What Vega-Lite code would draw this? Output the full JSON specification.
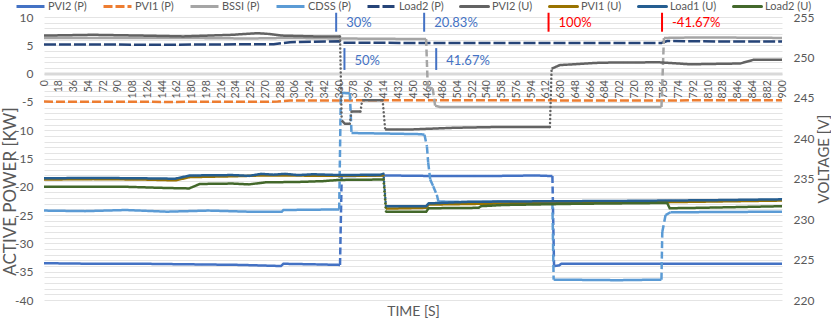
{
"$schema": "https://vega.github.io/schema/vega-lite/v6.json",
"width": 738, "height": 283,
"autosize": {"type": "none"},
"padding": {"left": 44, "top": 17, "right": 49, "bottom": 19},
"background": "white",
"config": {"view": {"stroke": null}, "font": "Lato",
 "axis": {"labelFont": "Lato", "titleFont": "Lato", "labelColor": "#595959", "titleColor": "#595959", "titleFontWeight": "normal", "labelOverlap": false, "ticks": false},
 "axisX": {"labelAngle": 270, "labelFontSize": 10.5, "labelPadding": 6, "grid": false, "domainColor": "#D9D9D9", "domainWidth": 3, "offset": -226.4, "titleFontSize": 14, "titleY": 238, "titleBaseline": "middle", "labelBound": false, "labelFlush": false},
 "axisLeft": {"domain": false, "grid": true, "gridColor": "#E4E4E4", "gridWidth": 1, "labelFontSize": 12, "labelPadding": 11, "titleFontSize": 17, "titleX": -34, "titleY": 174, "titleAngle": 270, "titleAlign": "center", "titleBaseline": "middle"},
 "axisRight": {"domain": false, "grid": false, "labelFontSize": 12, "labelPadding": 11, "titleFontSize": 15, "titleX": 41, "titleY": 141.5, "titleAngle": 270, "titleAlign": "center", "titleBaseline": "middle"}
},
"datasets": {
"P": [
{"series":"PVI2 (P)","t":0,"kW":-33.5},{"series":"PVI2 (P)","t":60,"kW":-33.6},{"series":"PVI2 (P)","t":120,"kW":-33.6},{"series":"PVI2 (P)","t":180,"kW":-33.7},{"series":"PVI2 (P)","t":240,"kW":-33.8},{"series":"PVI2 (P)","t":289,"kW":-34.0},{"series":"PVI2 (P)","t":292,"kW":-33.6},{"series":"PVI2 (P)","t":330,"kW":-33.7},{"series":"PVI2 (P)","t":361,"kW":-33.8},{"series":"PVI2 (P)","t":362,"kW":null},{"series":"PVI2 (P)","t":363,"kW":-18.1},{"series":"PVI2 (P)","t":420,"kW":-18.0},{"series":"PVI2 (P)","t":480,"kW":-18.1},{"series":"PVI2 (P)","t":540,"kW":-18.1},{"series":"PVI2 (P)","t":600,"kW":-18.0},{"series":"PVI2 (P)","t":620,"kW":-18.1},{"series":"PVI2 (P)","t":621,"kW":null},{"series":"PVI2 (P)","t":622,"kW":-34.0},{"series":"PVI2 (P)","t":628,"kW":-33.9},{"series":"PVI2 (P)","t":631,"kW":-33.6},{"series":"PVI2 (P)","t":750,"kW":-33.6},{"series":"PVI2 (P)","t":900,"kW":-33.6},
{"series":"PVI1 (P)","t":0,"kW":-4.95},{"series":"PVI1 (P)","t":150,"kW":-5.0},{"series":"PVI1 (P)","t":285,"kW":-4.95},{"series":"PVI1 (P)","t":300,"kW":-4.75},{"series":"PVI1 (P)","t":500,"kW":-4.7},{"series":"PVI1 (P)","t":700,"kW":-4.75},{"series":"PVI1 (P)","t":900,"kW":-4.7},
{"series":"BSSI (P)","t":0,"kW":6.3},{"series":"BSSI (P)","t":100,"kW":6.3},{"series":"BSSI (P)","t":170,"kW":6.3},{"series":"BSSI (P)","t":250,"kW":6.2},{"series":"BSSI (P)","t":300,"kW":6.3},{"series":"BSSI (P)","t":360,"kW":6.2},{"series":"BSSI (P)","t":466,"kW":6.1},{"series":"BSSI (P)","t":467,"kW":null},{"series":"BSSI (P)","t":468,"kW":-2.5},{"series":"BSSI (P)","t":474,"kW":-2.6},{"series":"BSSI (P)","t":475.5,"kW":null},{"series":"BSSI (P)","t":477,"kW":-5.7},{"series":"BSSI (P)","t":483,"kW":-5.9},{"series":"BSSI (P)","t":650,"kW":-5.9},{"series":"BSSI (P)","t":753,"kW":-5.9},{"series":"BSSI (P)","t":754.5,"kW":null},{"series":"BSSI (P)","t":756,"kW":6.3},{"series":"BSSI (P)","t":800,"kW":6.4},{"series":"BSSI (P)","t":900,"kW":6.3},
{"series":"CDSS (P)","t":0,"kW":-24.2},{"series":"CDSS (P)","t":50,"kW":-24.3},{"series":"CDSS (P)","t":100,"kW":-24.1},{"series":"CDSS (P)","t":150,"kW":-24.4},{"series":"CDSS (P)","t":200,"kW":-24.2},{"series":"CDSS (P)","t":250,"kW":-24.4},{"series":"CDSS (P)","t":290,"kW":-24.4},{"series":"CDSS (P)","t":292,"kW":-24.1},{"series":"CDSS (P)","t":360,"kW":-24.0},{"series":"CDSS (P)","t":361,"kW":null},{"series":"CDSS (P)","t":362,"kW":-3.4},{"series":"CDSS (P)","t":373,"kW":-3.5},{"series":"CDSS (P)","t":374,"kW":null},{"series":"CDSS (P)","t":375,"kW":-10.5},{"series":"CDSS (P)","t":420,"kW":-10.6},{"series":"CDSS (P)","t":459,"kW":-10.7},{"series":"CDSS (P)","t":464,"kW":-10.8},{"series":"CDSS (P)","t":470,"kW":null},{"series":"CDSS (P)","t":481,"kW":-22.6},{"series":"CDSS (P)","t":520,"kW":-22.7},{"series":"CDSS (P)","t":560,"kW":-22.6},{"series":"CDSS (P)","t":620,"kW":-22.7},{"series":"CDSS (P)","t":621,"kW":null},{"series":"CDSS (P)","t":621.5,"kW":-36.4},{"series":"CDSS (P)","t":700,"kW":-36.5},{"series":"CDSS (P)","t":753,"kW":-36.4},{"series":"CDSS (P)","t":753.5,"kW":null},{"series":"CDSS (P)","t":764,"kW":-24.5},{"series":"CDSS (P)","t":900,"kW":-24.4},
{"series":"Load2 (P)","t":0,"kW":5.15},{"series":"Load2 (P)","t":150,"kW":5.1},{"series":"Load2 (P)","t":280,"kW":5.2},{"series":"Load2 (P)","t":300,"kW":5.55},{"series":"Load2 (P)","t":361,"kW":5.7},{"series":"Load2 (P)","t":364,"kW":5.45},{"series":"Load2 (P)","t":500,"kW":5.4},{"series":"Load2 (P)","t":600,"kW":5.4},{"series":"Load2 (P)","t":753,"kW":5.4},{"series":"Load2 (P)","t":760,"kW":5.75},{"series":"Load2 (P)","t":800,"kW":5.7},{"series":"Load2 (P)","t":900,"kW":5.65}
],
"Pjump": [
{"series":"PVI2 (P)","t":361,"t2":363,"kW":-33.8,"kW2":-18.1},
{"series":"PVI2 (P)","t":620,"t2":622,"kW":-18.1,"kW2":-34.0},
{"series":"BSSI (P)","t":466,"t2":468,"kW":6.1,"kW2":-2.5},
{"series":"BSSI (P)","t":474,"t2":477,"kW":-2.6,"kW2":-5.7},
{"series":"BSSI (P)","t":753,"t2":756,"kW":-5.9,"kW2":6.3},
{"series":"CDSS (P)","t":360,"t2":362,"kW":-24.0,"kW2":-3.4},
{"series":"CDSS (P)","t":373,"t2":375,"kW":-3.5,"kW2":-10.5},
{"series":"CDSS (P)","t":464,"t2":467,"kW":-10.8,"kW2":-12.9},
{"series":"CDSS (P)","t":467,"t2":468.5,"kW":-12.9,"kW2":-15.7},
{"series":"CDSS (P)","t":468.5,"t2":471,"kW":-15.7,"kW2":-18.7},
{"series":"CDSS (P)","t":471,"t2":474.6,"kW":-18.7,"kW2":-19.9},
{"series":"CDSS (P)","t":474.6,"t2":479,"kW":-19.9,"kW2":-21.4},
{"series":"CDSS (P)","t":479,"t2":481,"kW":-21.4,"kW2":-22.6},
{"series":"CDSS (P)","t":620,"t2":621.5,"kW":-22.7,"kW2":-36.4},
{"series":"CDSS (P)","t":753,"t2":754,"kW":-36.4,"kW2":-28.0},
{"series":"CDSS (P)","t":754,"t2":758,"kW":-28.0,"kW2":-25.0},
{"series":"CDSS (P)","t":758,"t2":764,"kW":-25.0,"kW2":-24.5}
],
"U": [
{"series":"PVI2 (U)","t":0,"V":252.7},{"series":"PVI2 (U)","t":60,"V":252.8},{"series":"PVI2 (U)","t":120,"V":252.7},{"series":"PVI2 (U)","t":170,"V":252.6},{"series":"PVI2 (U)","t":230,"V":252.8},{"series":"PVI2 (U)","t":260,"V":253.0},{"series":"PVI2 (U)","t":275,"V":252.9},{"series":"PVI2 (U)","t":290,"V":252.7},{"series":"PVI2 (U)","t":330,"V":252.6},{"series":"PVI2 (U)","t":361,"V":252.6},{"series":"PVI2 (U)","t":362,"V":null},{"series":"PVI2 (U)","t":363,"V":242.2},{"series":"PVI2 (U)","t":367,"V":241.8},{"series":"PVI2 (U)","t":373,"V":241.8},{"series":"PVI2 (U)","t":374,"V":null},{"series":"PVI2 (U)","t":375,"V":243.3},{"series":"PVI2 (U)","t":386,"V":243.3},{"series":"PVI2 (U)","t":387,"V":null},{"series":"PVI2 (U)","t":388,"V":244.7},{"series":"PVI2 (U)","t":413,"V":244.7},{"series":"PVI2 (U)","t":414.5,"V":null},{"series":"PVI2 (U)","t":416,"V":241.1},{"series":"PVI2 (U)","t":450,"V":241.1},{"series":"PVI2 (U)","t":500,"V":241.3},{"series":"PVI2 (U)","t":556,"V":241.4},{"series":"PVI2 (U)","t":617,"V":241.4},{"series":"PVI2 (U)","t":618,"V":null},{"series":"PVI2 (U)","t":619,"V":248.6},{"series":"PVI2 (U)","t":629,"V":249.05},{"series":"PVI2 (U)","t":678,"V":249.35},{"series":"PVI2 (U)","t":750,"V":249.4},{"series":"PVI2 (U)","t":788,"V":249.15},{"series":"PVI2 (U)","t":849,"V":249.25},{"series":"PVI2 (U)","t":865,"V":249.7},{"series":"PVI2 (U)","t":900,"V":249.7},
{"series":"PVI1 (U)","t":0,"V":234.9},{"series":"PVI1 (U)","t":60,"V":234.95},{"series":"PVI1 (U)","t":120,"V":234.9},{"series":"PVI1 (U)","t":160,"V":234.8},{"series":"PVI1 (U)","t":178,"V":235.2},{"series":"PVI1 (U)","t":230,"V":235.3},{"series":"PVI1 (U)","t":265,"V":235.4},{"series":"PVI1 (U)","t":294,"V":235.4},{"series":"PVI1 (U)","t":360,"V":235.35},{"series":"PVI1 (U)","t":414,"V":235.4},{"series":"PVI1 (U)","t":415.5,"V":null},{"series":"PVI1 (U)","t":417,"V":231.3},{"series":"PVI1 (U)","t":466,"V":231.4},{"series":"PVI1 (U)","t":469,"V":231.8},{"series":"PVI1 (U)","t":600,"V":232.0},{"series":"PVI1 (U)","t":760,"V":232.1},{"series":"PVI1 (U)","t":900,"V":232.3},
{"series":"Load1 (U)","t":0,"V":235.05},{"series":"Load1 (U)","t":60,"V":235.1},{"series":"Load1 (U)","t":120,"V":235.05},{"series":"Load1 (U)","t":160,"V":235.0},{"series":"Load1 (U)","t":178,"V":235.4},{"series":"Load1 (U)","t":230,"V":235.45},{"series":"Load1 (U)","t":250,"V":235.35},{"series":"Load1 (U)","t":265,"V":235.6},{"series":"Load1 (U)","t":280,"V":235.5},{"series":"Load1 (U)","t":294,"V":235.6},{"series":"Load1 (U)","t":310,"V":235.45},{"series":"Load1 (U)","t":328,"V":235.55},{"series":"Load1 (U)","t":360,"V":235.45},{"series":"Load1 (U)","t":410,"V":235.5},{"series":"Load1 (U)","t":414,"V":235.6},{"series":"Load1 (U)","t":415.5,"V":null},{"series":"Load1 (U)","t":417,"V":231.6},{"series":"Load1 (U)","t":466,"V":231.6},{"series":"Load1 (U)","t":469,"V":231.95},{"series":"Load1 (U)","t":520,"V":232.15},{"series":"Load1 (U)","t":600,"V":232.2},{"series":"Load1 (U)","t":700,"V":232.25},{"series":"Load1 (U)","t":760,"V":232.3},{"series":"Load1 (U)","t":820,"V":232.35},{"series":"Load1 (U)","t":900,"V":232.45},
{"series":"Load2 (U)","t":0,"V":234.0},{"series":"Load2 (U)","t":100,"V":234.0},{"series":"Load2 (U)","t":150,"V":233.85},{"series":"Load2 (U)","t":177,"V":233.8},{"series":"Load2 (U)","t":190,"V":234.35},{"series":"Load2 (U)","t":230,"V":234.4},{"series":"Load2 (U)","t":250,"V":234.3},{"series":"Load2 (U)","t":270,"V":234.55},{"series":"Load2 (U)","t":310,"V":234.6},{"series":"Load2 (U)","t":340,"V":234.7},{"series":"Load2 (U)","t":360,"V":234.85},{"series":"Load2 (U)","t":414,"V":234.9},{"series":"Load2 (U)","t":415.5,"V":null},{"series":"Load2 (U)","t":417,"V":230.9},{"series":"Load2 (U)","t":466,"V":230.9},{"series":"Load2 (U)","t":469,"V":231.35},{"series":"Load2 (U)","t":530,"V":231.4},{"series":"Load2 (U)","t":533,"V":231.6},{"series":"Load2 (U)","t":560,"V":231.75},{"series":"Load2 (U)","t":650,"V":231.9},{"series":"Load2 (U)","t":760,"V":232.0},{"series":"Load2 (U)","t":763,"V":231.35},{"series":"Load2 (U)","t":800,"V":231.4},{"series":"Load2 (U)","t":850,"V":231.5},{"series":"Load2 (U)","t":900,"V":231.6}
],
"Ujump": [
{"series":"PVI2 (U)","t":361,"t2":363,"V":252.6,"V2":242.2},
{"series":"PVI2 (U)","t":373,"t2":375,"V":241.8,"V2":243.3},
{"series":"PVI2 (U)","t":386,"t2":388,"V":243.3,"V2":244.7},
{"series":"PVI2 (U)","t":413,"t2":416,"V":244.7,"V2":241.1},
{"series":"PVI2 (U)","t":617,"t2":619,"V":241.4,"V2":248.6},
{"series":"PVI1 (U)","t":414,"t2":417,"V":235.4,"V2":231.3},
{"series":"Load1 (U)","t":414,"t2":417,"V":235.6,"V2":231.6},
{"series":"Load2 (U)","t":414,"t2":417,"V":234.9,"V2":230.9}
],
"ann": [
{"label":"30%","t":356.3,"kW":10.75,"kW2":7.4,"kWm":9.0},
{"label":"50%","t":366.4,"kW":4.5,"kW2":0.65,"kWm":2.3},
{"label":"20.83%","t":463.6,"kW":10.75,"kW2":7.4,"kWm":9.0},
{"label":"41.67%","t":478.3,"kW":4.5,"kW2":0.65,"kWm":2.3},
{"label":"100%","t":615.3,"kW":10.75,"kW2":7.4,"kWm":9.0},
{"label":"-41.67%","t":753.7,"kW":10.75,"kW2":7.4,"kWm":9.0}
]
},
"layer": [
{"layer": [
{"data": {"name": "P"}, "mark": {"type": "line", "strokeWidth": 2.5, "clip": false, "invalid": "break-paths-show-domains"},
"encoding": {
"x": {"field": "t", "type": "quantitative", "scale": {"domain": [0, 900], "nice": false, "zero": false},
 "axis": {"values": [0,18,36,54,72,90,108,126,144,162,180,198,216,234,252,270,288,306,324,342,360,378,396,414,432,450,468,486,504,522,540,558,576,594,612,630,648,666,684,702,720,738,756,774,792,810,828,846,864,882,900], "title": "TIME [S]", "labelOverlap": false}},
"y": {"field": "kW", "type": "quantitative", "scale": {"domain": [-40, 10], "nice": false, "zero": false},
 "axis": {"values": [-40,-39,-38,-37,-36,-35,-34,-33,-32,-31,-30,-29,-28,-27,-26,-25,-24,-23,-22,-21,-20,-19,-18,-17,-16,-15,-14,-13,-12,-11,-10,-9,-8,-7,-6,-5,-4,-3,-2,-1,0,1,2,3,4,5,6,7,8,9,10],
  "labelExpr": "datum.value % 5 === 0 ? '' + datum.value : ''", "grid": true, "labelOverlap": false,
  "title": "ACTIVE POWER [KW]"}},
"color": {"field": "series", "type": "nominal",
 "scale": {"domain": ["PVI2 (P)","PVI1 (P)","BSSI (P)","CDSS (P)","Load2 (P)","PVI2 (U)","PVI1 (U)","Load1 (U)","Load2 (U)"],
  "range": ["#4472C4","#ED7D31","#A5A5A5","#5B9BD5","#264478","#636363","#997300","#255E91","#43682B"]},
 "legend": {"orient": "none", "legendX": -29, "legendY": -26, "direction": "horizontal", "gridAlign": "none", "columnPadding": 10, "title": null, "padding": 0,
  "symbolType": "stroke", "symbolSize": 784, "symbolStrokeWidth": 3, "labelFont": "Lato", "labelFontSize": 11, "labelColor": "#595959", "labelOffset": 2, "labelLimit": 200,
  "encode": {"symbols": {"update": {
   "strokeDash": [{"test": "indexof(datum.value, '(P)') >= 0", "value": [9, 3]}, {"value": [0.01, 5.5]}],
   "strokeCap": [{"test": "indexof(datum.value, '(P)') >= 0", "value": "butt"}, {"value": "round"}]}}}}},
"strokeDash": {"field": "series", "type": "nominal",
 "scale": {"domain": ["PVI2 (P)","PVI1 (P)","BSSI (P)","CDSS (P)","Load2 (P)","PVI2 (U)","PVI1 (U)","Load1 (U)","Load2 (U)"],
  "range": [[1,0],[9,3],[1,0],[1,0],[12,3],[1,0],[1,0],[1,0],[1,0]]}, "legend": null}
}},
{"data": {"name": "Pjump"}, "mark": {"type": "rule", "strokeWidth": 2.5, "strokeDash": [7, 3.5], "clip": false},
"encoding": {
"x": {"field": "t", "type": "quantitative",
 "axis": {"values": [0,18,36,54,72,90,108,126,144,162,180,198,216,234,252,270,288,306,324,342,360,378,396,414,432,450,468,486,504,522,540,558,576,594,612,630,648,666,684,702,720,738,756,774,792,810,828,846,864,882,900], "title": "TIME [S]", "labelOverlap": false}},
"x2": {"field": "t2"},
"y": {"field": "kW", "type": "quantitative",
 "axis": {"values": [-40,-39,-38,-37,-36,-35,-34,-33,-32,-31,-30,-29,-28,-27,-26,-25,-24,-23,-22,-21,-20,-19,-18,-17,-16,-15,-14,-13,-12,-11,-10,-9,-8,-7,-6,-5,-4,-3,-2,-1,0,1,2,3,4,5,6,7,8,9,10],
  "labelExpr": "datum.value % 5 === 0 ? '' + datum.value : ''", "grid": true, "labelOverlap": false,
  "title": "ACTIVE POWER [KW]"}},
"y2": {"field": "kW2"},
"color": {"field": "series", "type": "nominal"}
}},
{"data": {"name": "ann"}, "mark": {"type": "rule", "strokeWidth": 2, "clip": false},
"encoding": {
"x": {"field": "t", "type": "quantitative",
 "axis": {"values": [0,18,36,54,72,90,108,126,144,162,180,198,216,234,252,270,288,306,324,342,360,378,396,414,432,450,468,486,504,522,540,558,576,594,612,630,648,666,684,702,720,738,756,774,792,810,828,846,864,882,900], "title": "TIME [S]", "labelOverlap": false}},
"y": {"field": "kW", "type": "quantitative",
 "axis": {"values": [-40,-39,-38,-37,-36,-35,-34,-33,-32,-31,-30,-29,-28,-27,-26,-25,-24,-23,-22,-21,-20,-19,-18,-17,-16,-15,-14,-13,-12,-11,-10,-9,-8,-7,-6,-5,-4,-3,-2,-1,0,1,2,3,4,5,6,7,8,9,10],
  "labelExpr": "datum.value % 5 === 0 ? '' + datum.value : ''", "grid": true, "labelOverlap": false,
  "title": "ACTIVE POWER [KW]"}},
"y2": {"field": "kW2"},
"color": {"condition": {"test": "datum.label === '100%' || datum.label === '-41.67%'", "value": "#FF0000"}, "value": "#4472C4"}
}},
{"data": {"name": "ann"}, "mark": {"type": "text", "align": "left", "baseline": "middle", "dx": 10, "fontSize": 13, "font": "Lato"},
"encoding": {
"x": {"field": "t", "type": "quantitative",
 "axis": {"values": [0,18,36,54,72,90,108,126,144,162,180,198,216,234,252,270,288,306,324,342,360,378,396,414,432,450,468,486,504,522,540,558,576,594,612,630,648,666,684,702,720,738,756,774,792,810,828,846,864,882,900], "title": "TIME [S]", "labelOverlap": false}},
"y": {"field": "kWm", "type": "quantitative",
 "axis": {"values": [-40,-39,-38,-37,-36,-35,-34,-33,-32,-31,-30,-29,-28,-27,-26,-25,-24,-23,-22,-21,-20,-19,-18,-17,-16,-15,-14,-13,-12,-11,-10,-9,-8,-7,-6,-5,-4,-3,-2,-1,0,1,2,3,4,5,6,7,8,9,10],
  "labelExpr": "datum.value % 5 === 0 ? '' + datum.value : ''", "grid": true, "labelOverlap": false,
  "title": "ACTIVE POWER [KW]"}},
"text": {"field": "label"},
"color": {"condition": {"test": "datum.label === '100%' || datum.label === '-41.67%'", "value": "#FF0000"}, "value": "#4472C4"}
}}
]},
{"layer": [
{"data": {"name": "U"}, "mark": {"type": "line", "strokeWidth": 2.5, "clip": false, "invalid": "break-paths-show-domains"},
"encoding": {
"x": {"field": "t", "type": "quantitative",
 "axis": {"values": [0,18,36,54,72,90,108,126,144,162,180,198,216,234,252,270,288,306,324,342,360,378,396,414,432,450,468,486,504,522,540,558,576,594,612,630,648,666,684,702,720,738,756,774,792,810,828,846,864,882,900], "title": "TIME [S]", "labelOverlap": false}},
"y": {"field": "V", "type": "quantitative", "scale": {"domain": [220, 255], "nice": false, "zero": false},
 "axis": {"orient": "right", "values": [220,225,230,235,240,245,250,255], "title": "VOLTAGE [V]"}},
"color": {"field": "series", "type": "nominal"},
"strokeDash": {"field": "series", "type": "nominal", "legend": null}
}},
{"data": {"name": "Ujump"}, "mark": {"type": "rule", "strokeWidth": 2.5, "strokeDash": [0.01, 4], "strokeCap": "round", "clip": false},
"encoding": {
"x": {"field": "t", "type": "quantitative",
 "axis": {"values": [0,18,36,54,72,90,108,126,144,162,180,198,216,234,252,270,288,306,324,342,360,378,396,414,432,450,468,486,504,522,540,558,576,594,612,630,648,666,684,702,720,738,756,774,792,810,828,846,864,882,900], "title": "TIME [S]", "labelOverlap": false}},
"x2": {"field": "t2"},
"y": {"field": "V", "type": "quantitative",
 "axis": {"orient": "right", "values": [220,225,230,235,240,245,250,255], "title": "VOLTAGE [V]"}},
"y2": {"field": "V2"},
"color": {"field": "series", "type": "nominal"}
}}
]}
],
"resolve": {"scale": {"y": "independent"}}
}
